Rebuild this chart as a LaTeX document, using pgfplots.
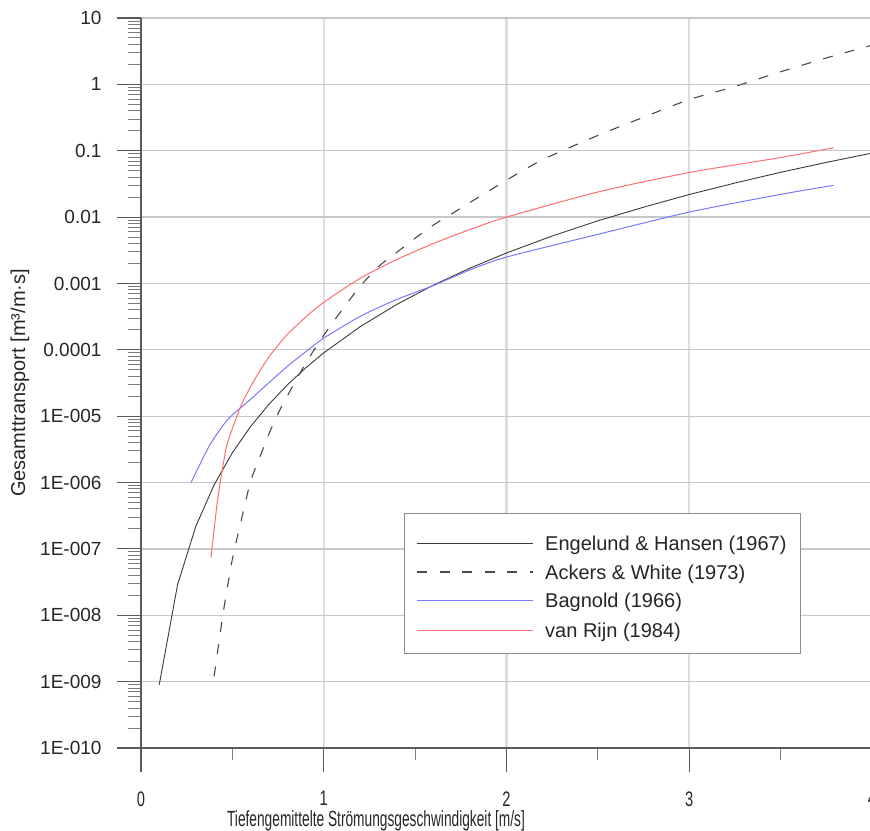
\documentclass[border=0pt]{standalone}
\usepackage{pgfplots}
\pgfplotsset{compat=1.18}
\usepackage{fontspec}
\setmainfont{Liberation Sans}
\usepackage{graphicx}
\definecolor{ehcol}{HTML}{3A3A3A}
\definecolor{awcol}{HTML}{4A4A4A}
\definecolor{bgcol}{HTML}{7878FF}
\definecolor{redcurve}{HTML}{FF6E6E}
\definecolor{axcol}{HTML}{5A5A5A}
\definecolor{txtcol}{HTML}{262626}
\begin{document}
\begin{tikzpicture}
\begin{axis}[
  at={(0pt,0pt)}, anchor=south west,
  scale only axis, width=731pt, height=730pt,
  xmin=0, xmax=4, ymode=log, ymin=1e-10, ymax=10,
  axis x line*=bottom, axis y line*=left,
  axis line style={axcol, line width=1.2pt},
  tick align=outside,
  major tick length=24pt, minor tick length=12.5pt,
  every tick/.style={axcol, line width=1.1pt},
  minor tick style={axcol!80, line width=1pt},
  /pgf/number format/assume math mode=true,
  xtick={0,1,2,3,4},
  xticklabels={\scalebox{0.7}[1]{0},\scalebox{0.7}[1]{1},\scalebox{0.7}[1]{2},\scalebox{0.7}[1]{3},\scalebox{0.7}[1]{4}},
  minor xtick={0.5,1.5,2.5,3.5},
  ytick={1e-10,1e-9,1e-8,1e-7,1e-6,1e-5,1e-4,1e-3,1e-2,1e-1,1,10},
  yticklabels={1E-010,1E-009,1E-008,1E-007,1E-006,1E-005,0.0001,0.001,0.01,0.1,1,10},
  xticklabel style={font=\fontsize{21}{25}\selectfont, text=txtcol, yshift=-16pt},
  yticklabel style={font=\fontsize{19}{23}\selectfont, text=txtcol, xshift=-12pt},
  grid=major,
  major x grid style={black!13, line width=2.2pt},
  major y grid style={black!22, line width=1.3pt},
  xlabel={\scalebox{0.624}[1]{Tiefengemittelte Strömungsgeschwindigkeit [m/s]}},
  xlabel style={at={(rel axis cs:0.3215,0)}, anchor=base, yshift=-78pt, font=\fontsize{22}{26}\selectfont, text=txtcol},
  ylabel={Gesamttransport [m³/m·s]},
  ylabel style={at={(rel axis cs:-0.1655,0.5)}, anchor=center, font=\fontsize{20}{24}\selectfont, text=txtcol},
]
\addplot[draw=ehcol, line width=0.9pt] coordinates {
(0.1,9.0e-10)(0.2,2.88e-8)(0.3,2.19e-7)(0.4,9.22e-7)(0.5,2.81e-6)(0.6,7.0e-6)
(0.7,1.51e-5)(0.8,2.95e-5)(0.9,5.31e-5)(1.0,9.0e-5)(1.2,2.24e-4)(1.4,4.84e-4)
(1.6,9.44e-4)(1.8,1.70e-3)(2.0,2.88e-3)(2.25,5.19e-3)(2.5,8.79e-3)(2.75,1.41e-2)
(3.0,2.19e-2)(3.25,3.26e-2)(3.5,4.73e-2)(3.75,6.67e-2)(4.0,9.22e-2)};
\addplot[draw=awcol, line width=1.1pt, dash pattern=on 10pt off 12.5pt, smooth, tension=0.4] coordinates {
(0.40,1.2e-9)(0.45,1.1e-8)(0.50,7.0e-8)(0.55,2.8e-7)(0.60,1.05e-6)(0.65,2.4e-6)
(0.70,5.4e-6)(0.75,1.1e-5)(0.80,2.0e-5)(0.90,6.2e-5)(1.0,1.66e-4)(1.1,4.0e-4)
(1.2,9.1e-4)(1.3,1.8e-3)(1.4,2.95e-3)(1.5,4.8e-3)(1.6,7.6e-3)(1.7,1.12e-2)
(1.8,1.66e-2)(2.0,3.6e-2)(2.2,7.4e-2)(2.5,0.17)(2.75,0.32)(3.0,0.59)
(3.25,0.93)(3.5,1.55)(3.75,2.5)(4.0,3.9)};
\addplot[draw=bgcol, line width=1pt, smooth, tension=0.4] coordinates {
(0.274,1.0e-6)(0.376,3.66e-6)(0.476,9.0e-6)(0.6,1.8e-5)(0.7,3.2e-5)(0.8,5.6e-5)
(0.9,9.3e-5)(1.0,1.5e-4)(1.2,3.2e-4)(1.4,5.75e-4)(1.6,9.3e-4)(1.8,1.6e-3)
(2.0,2.5e-3)(2.5,5.5e-3)(3.0,1.19e-2)(3.5,2.2e-2)(3.79,3.01e-2)};
\addplot[draw=redcurve, line width=1pt, smooth, tension=0.4] coordinates {
(0.383,7.4e-8)(0.42,5.7e-7)(0.465,3.2e-6)(0.50,6.5e-6)(0.55,1.5e-5)(0.60,2.8e-5)
(0.65,4.8e-5)(0.70,7.8e-5)(0.75,1.17e-4)(0.80,1.7e-4)(0.90,3.1e-4)(1.0,5.2e-4)
(1.2,1.2e-3)(1.4,2.3e-3)(1.6,4.0e-3)(1.8,6.5e-3)(2.0,1.0e-2)(2.5,2.39e-2)
(3.0,4.7e-2)(3.5,7.9e-2)(3.79,0.111)};
% legend box
\filldraw[fill=white, draw=black!45, line width=0.8pt]
  (axis description cs:0.3598,0.3219) rectangle (axis description cs:0.9015,0.1301);
\draw[ehcol, line width=0.9pt] (axis description cs:0.3776,0.2808) -- (axis description cs:0.5363,0.2808);
\draw[awcol, line width=1.1pt, dash pattern=on 10pt off 12.5pt] (axis description cs:0.3776,0.2411) -- (axis description cs:0.5363,0.2411);
\draw[bgcol, line width=1pt] (axis description cs:0.3776,0.2027) -- (axis description cs:0.5363,0.2027);
\draw[redcurve, line width=1pt] (axis description cs:0.3776,0.1616) -- (axis description cs:0.5363,0.1616);
\begin{scope}[every node/.style={anchor=base west, inner sep=0pt, yshift=-7.2pt, text=txtcol, font=\fontsize{20}{24}\selectfont}]
\node at (axis description cs:0.5527,0.2808) {Engelund \& Hansen (1967)};
\node at (axis description cs:0.5527,0.2411) {Ackers \& White (1973)};
\node at (axis description cs:0.5527,0.2027) {Bagnold (1966)};
\node at (axis description cs:0.5527,0.1616) {van Rijn (1984)};
\end{scope}
\end{axis}
\pgfresetboundingbox
\useasboundingbox (-141pt,-82pt) rectangle (729pt,748pt);
\end{tikzpicture}
\end{document}
